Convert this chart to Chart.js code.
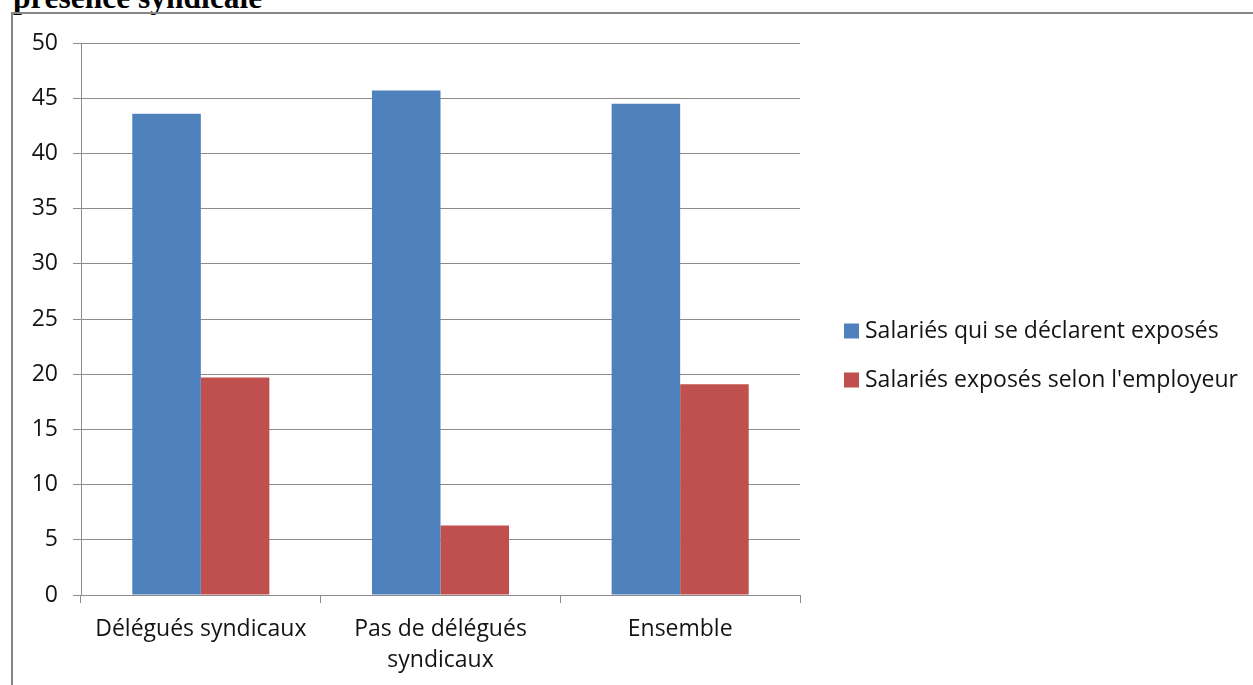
<!DOCTYPE html>
<html>
<head>
<meta charset="utf-8">
<script src="https://cdn.jsdelivr.net/npm/chart.js@4.4.1/dist/chart.umd.min.js"></script>
<style>
  html, body { margin: 0; padding: 0; background: #fff; overflow: hidden; }
  body { width: 1253px; height: 685px; position: relative; }
  .title { position: absolute; left: 13px; top: -18px; white-space: nowrap; color: #000;
           font: bold 31.5px/32px 'Liberation Serif', 'Times New Roman', serif; }
  .frame { position: absolute; left: 11px; top: 12px; width: 1300px; height: 700px;
           border: 2px solid #868686; }
  #chart { position: absolute; left: 0; top: 0; }
</style>
</head>
<body>
<div class="title">présence syndicale</div>
<div class="frame"></div>
<canvas id="chart" width="1253" height="685"></canvas>
<script>
// categories + series (percentages)
const categories = ['Délégués syndicaux', ['Pas de délégués', 'syndicaux'], 'Ensemble'];
const seriesNames = ['Salariés qui se déclarent exposés', "Salariés exposés selon l'employeur"];
const declared = [43.6, 45.7, 44.5];
const employer = [19.7, 6.3, 19.1];
const yMin = 0, yMax = 50, yStep = 5;

const C = { blue: '#4F81BD', red: '#C0504D', grid: '#8C8C8C', text: '#141414' };
const FONT = "'Open Sans', 'Noto Sans', sans-serif";
const FS = 23;

// legend to the right of the plot, square swatch + label
const sideLegend = {
  id: 'sideLegend',
  afterDraw(chart, args, o) {
    const { ctx } = chart;
    ctx.save();
    ctx.font = `${FS}px ${FONT}`;
    ctx.textBaseline = 'middle';
    ctx.textAlign = 'left';
    chart.data.datasets.forEach((ds, i) => {
      const y = o.y + i * o.step;
      ctx.fillStyle = ds.backgroundColor;
      ctx.fillRect(o.x, y - o.box / 2, o.box, o.box);
      ctx.fillStyle = C.text;
      ctx.fillText(ds.label, o.x + o.box + o.gap, y);
    });
    ctx.restore();
  },
};

new Chart(document.getElementById('chart'), {
  type: 'bar',
  data: {
    labels: categories,
    datasets: [
      { label: seriesNames[0], data: declared, backgroundColor: C.blue },
      { label: seriesNames[1], data: employer, backgroundColor: C.red },
    ],
  },
  options: {
    responsive: false,
    animation: false,
    events: [],
    layout: { padding: { top: 43, right: 453, left: 0, bottom: 0 } },
    datasets: { bar: { categoryPercentage: 0.572, barPercentage: 1.0, borderWidth: 0 } },
    scales: {
      x: {
        offset: true,
        grid: { offset: true, drawOnChartArea: false, drawTicks: true, tickLength: 8, color: C.grid },
        border: { color: C.grid },
        ticks: { color: C.text, padding: 11, maxRotation: 0, autoSkip: false,
                 font: { family: FONT, size: FS, lineHeight: 31 / FS } },
        afterFit: s => { s.height = 90; },
      },
      y: {
        min: yMin, max: yMax,
        grid: { color: C.grid, tickLength: 8 },
        border: { color: C.grid },
        ticks: { stepSize: yStep, color: C.text, padding: 15, font: { family: FONT, size: FS } },
        afterFit: s => { s.width = 81; },
      },
    },
    plugins: {
      legend: { display: false },
      tooltip: { enabled: false },
      sideLegend: { x: 844, y: 331, step: 49, box: 15, gap: 6 },
    },
  },
  plugins: [sideLegend],
});
</script>
</body>
</html>
